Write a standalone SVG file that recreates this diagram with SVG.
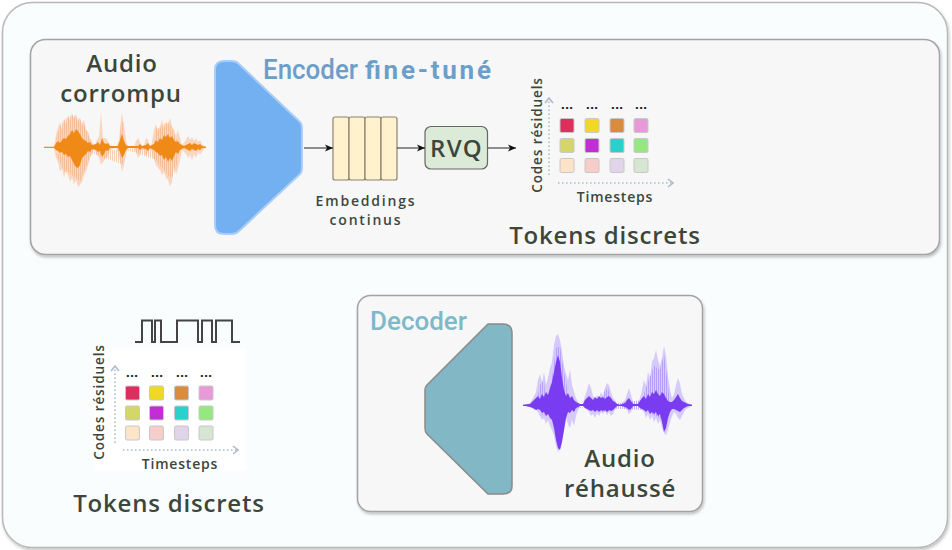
<svg xmlns="http://www.w3.org/2000/svg" width="952" height="550" viewBox="0 0 952 550">
<defs>
<style>
.lbl{font-family:"Open Sans","Noto Sans","DejaVu Sans",sans-serif;font-weight:600;fill:#3b473c}
.big{font-size:24px;letter-spacing:0.8px}
.title{font-family:Roboto,"Open Sans",sans-serif}
.panel{fill:#f7f7f7;stroke:#a3a3a3;stroke-width:1.5}
.emb{fill:#fff2cc;stroke:#8c8270;stroke-width:1.2}
.conn{stroke:#222;stroke-width:1;fill:none}
.axis{stroke:#aebacb;stroke-width:1.6;stroke-dasharray:1.5 2.5;fill:none}
.dots{font-family:"DejaVu Sans",sans-serif;font-size:11px;font-weight:700;fill:#222}
.sq{stroke:#c8c8c8;stroke-width:1}
</style>
<filter id="sh" x="-5%" y="-5%" width="110%" height="115%">
<feDropShadow dx="1" dy="2" stdDeviation="1.5" flood-color="#000" flood-opacity="0.25"/>
</filter>
<marker id="arr" viewBox="0 0 8 8" refX="8" refY="4" markerWidth="8" markerHeight="8" markerUnits="userSpaceOnUse" orient="auto">
<path d="M0,0.5 L8,4 L0,7.5 L2,4 Z" fill="#111"/>
</marker>
<marker id="chev" viewBox="0 0 8 10" refX="7" refY="5" markerWidth="8" markerHeight="10" markerUnits="userSpaceOnUse" orient="auto">
<path d="M2,1 L7,5 L2,9" fill="none" stroke="#aebacb" stroke-width="1.6"/>
</marker>
<pattern id="stO" width="2" height="10" patternUnits="userSpaceOnUse"><rect width="1" height="10" fill="#f0a06a"/></pattern>
<pattern id="stP" width="2" height="10" patternUnits="userSpaceOnUse"><rect width="1" height="10" fill="#a283f5"/></pattern>
</defs>

<rect width="952" height="550" fill="#ffffff"/>
<g id="frame">
<rect x="2.5" y="2.5" width="945" height="545" rx="30" fill="#f9fdfd" stroke="#b9b9b9" stroke-width="1.5" filter="url(#sh)"/>
</g>

<g id="encoder-panel">
<rect class="panel" x="30.5" y="39.5" width="909" height="215" rx="15" filter="url(#sh)"/>
</g>

<g id="audio-in">
<text class="lbl big" x="122" y="72" text-anchor="middle">Audio</text>
<text class="lbl big" x="121" y="102" text-anchor="middle">corrompu</text>
<g id="wave-orange">
<polygon id="envO" fill="#f9d0b6" opacity="0.85" points="54,147 56,135 58,128 60,122 62,130 64,118 66,124 68,115 70,121 72,113 74,119 76,114 78,122 80,117 82,126 84,120 86,130 88,132 90,138 92,142 94,146 97,140 99,137 101,112 103,138 106,138 108,141 110,146 116,147 119,140 121,120 122,112 124,125 126,140 128,147 134,147 136,141 138,138 140,142 142,147 144,145 146,138 148,140 150,147 152,142 154,130 156,124 158,132 160,126 162,120 164,128 166,122 168,124 170,118 172,126 174,130 176,136 178,130 180,138 182,145 186,140 188,136 190,140 192,137 194,141 196,138 198,142 200,140 202,144 204,146 206,147 204,149 202,152 200,155 198,152 196,158 194,154 192,160 190,155 188,158 186,154 182,150 180,160 178,168 176,175 174,165 172,182 170,187 168,180 166,178 164,172 162,175 160,170 158,168 156,165 154,160 152,152 150,148 148,152 146,156 144,150 142,148 140,155 138,158 136,152 134,148 128,148 126,155 124,165 122,172 120,160 118,152 116,148 110,150 108,156 106,158 103,162 101,165 99,158 97,155 94,149 92,154 90,158 88,165 86,172 84,175 82,182 80,185 78,187 76,180 74,184 72,178 70,182 68,175 66,170 64,178 62,168 60,172 58,162 56,158 54,148"/>
<polygon fill="url(#stO)" opacity="0.45" points="56,140 60,126 64,120 68,117 72,115 76,117 80,120 84,124 88,134 92,144 94,147 92,152 88,162 84,172 80,182 76,178 72,175 68,172 64,172 60,162 56,154 154,147 156,128 160,128 164,124 168,122 172,128 176,138 180,147 176,168 172,178 168,176 164,170 160,166 156,160 119,147 121,122 123,122 125,147 123,164 121,164"/>
<polygon fill="#ef8a17" points="44,147 54,147 56,143 58,141 60,143 62,140 64,138 66,139 68,136 70,134 72,130 74,133 76,129 78,131 80,134 82,138 84,140 86,141 88,143 90,142 92,145 96,144 98,142 100,145 102,138 104,143 106,144 108,143 110,146 118,146 120,140 122,134 124,141 126,145 128,146 138,146 140,144 142,146 146,145 148,143 150,146 154,144 156,140 158,142 160,138 162,140 164,135 166,137 168,134 170,138 172,136 174,140 176,142 178,141 180,144 184,146 188,144 190,143 192,145 194,143 196,144 198,145 200,144 202,146 206,147 206,147.5 202,148 200,150 198,149 196,151 194,150 192,149 190,151 188,150 184,148 180,150 178,154 176,152 174,156 172,161 170,158 168,162 166,157 164,160 162,155 160,156 158,153 156,152 154,150 150,148 148,151 146,149 142,148 140,150 138,148 128,148 126,150 124,155 122,158 120,152 118,148 110,148 108,151 106,150 104,154 102,157 100,151 98,152 96,150 92,149 90,152 88,151 86,154 84,156 82,158 80,165 78,168 76,167 74,164 72,160 70,156 68,157 66,154 64,155 62,152 60,153 58,151 56,150 54,148 44,147.5"/>
<line x1="44" y1="147.3" x2="206" y2="147.3" stroke="#ef8a17" stroke-width="1.2"/>
</g>
</g>

<g id="encoder">
<path d="M224,61 H232 Q236,61 239,64 L300,122 Q302,124 302,128 V168 Q302,172 300,174 L239,231 Q236,234 232,234 H224 Q215,234 215,225 V70 Q215,61 224,61 Z" fill="#73b0f2" stroke="#a9cdf6" stroke-width="2"/>
<text class="title" x="263" y="79" font-size="27" font-weight="500" fill="#6b9fc9" textLength="95" lengthAdjust="spacingAndGlyphs">Encoder</text>
<text class="title" x="365" y="79" font-size="26" font-weight="700" fill="#6b9fc9" textLength="126" lengthAdjust="spacing">fine-tuné</text>
</g>

<g id="embeddings">
<rect class="emb" x="333" y="117" width="16" height="63" rx="2"/>
<rect class="emb" x="349" y="117" width="16" height="63" rx="2"/>
<rect class="emb" x="365" y="117" width="16" height="63" rx="2"/>
<rect class="emb" x="381" y="117" width="16" height="63" rx="2"/>
<text class="lbl" x="366" y="206" font-size="14" letter-spacing="1.8" text-anchor="middle">Embeddings</text>
<text class="lbl" x="366" y="225" font-size="14" letter-spacing="1.8" text-anchor="middle">continus</text>
</g>

<g id="rvq">
<rect x="425" y="126.5" width="62.5" height="42.5" rx="6" fill="#dcebd8" stroke="#666" stroke-width="1.2"/>
<text class="lbl" x="456.5" y="157" font-size="24" font-weight="700" letter-spacing="1.2" text-anchor="middle">RVQ</text>
</g>

<g id="connectors">
<line class="conn" x1="304" y1="148" x2="333" y2="148" marker-end="url(#arr)"/>
<line class="conn" x1="397" y1="148" x2="425" y2="148" marker-end="url(#arr)"/>
<line class="conn" x1="488" y1="148" x2="516" y2="148" marker-end="url(#arr)"/>
</g>

<g id="tokens-top">
<line class="axis" x1="549" y1="175" x2="549" y2="98" marker-end="url(#chev)"/>
<line class="axis" x1="558" y1="183" x2="673" y2="183" marker-end="url(#chev)"/>
<text class="lbl" transform="translate(542,135) rotate(-90)" font-size="13.5" letter-spacing="0.9" text-anchor="middle">Codes résiduels</text>
<text class="lbl" x="615" y="202" font-size="14" letter-spacing="0.8" text-anchor="middle">Timesteps</text>
<text class="dots" x="567" y="109" text-anchor="middle">...</text>
<text class="dots" x="592" y="109" text-anchor="middle">...</text>
<text class="dots" x="617" y="109" text-anchor="middle">...</text>
<text class="dots" x="641" y="109" text-anchor="middle">...</text>
<rect class="sq" x="560" y="118.5" width="14" height="14" rx="1.5" fill="#dc2f5e"/>
<rect class="sq" x="585" y="118.5" width="14" height="14" rx="1.5" fill="#f0d824"/>
<rect class="sq" x="610" y="118.5" width="14" height="14" rx="1.5" fill="#da8b3e"/>
<rect class="sq" x="634" y="118.5" width="14" height="14" rx="1.5" fill="#e89ad8"/>
<rect class="sq" x="560" y="138.5" width="14" height="14" rx="1.5" fill="#d4d66a"/>
<rect class="sq" x="585" y="138.5" width="14" height="14" rx="1.5" fill="#c02ed4"/>
<rect class="sq" x="610" y="138.5" width="14" height="14" rx="1.5" fill="#2ad1cc"/>
<rect class="sq" x="634" y="138.5" width="14" height="14" rx="1.5" fill="#95e87f"/>
<rect class="sq" x="560" y="158.5" width="14" height="14" rx="1.5" fill="#fde3c8"/>
<rect class="sq" x="585" y="158.5" width="14" height="14" rx="1.5" fill="#f6cdc9"/>
<rect class="sq" x="610" y="158.5" width="14" height="14" rx="1.5" fill="#e2d4e8"/>
<rect class="sq" x="634" y="158.5" width="14" height="14" rx="1.5" fill="#d6e6d3"/>
<text class="lbl big" x="605" y="244" letter-spacing="1.3" text-anchor="middle">Tokens discrets</text>
</g>

<g id="tokens-bottom">
<rect x="95" y="349" width="151" height="122" fill="#ffffff"/>
<path d="M135,342 H142 V320.5 H152 V342 H155 V320.5 H161 V342 H177 V320.5 H198 V342 H202 V320.5 H212 V342 H216 V320.5 H232 V342 H240" fill="none" stroke="#444" stroke-width="2"/>
<line class="axis" x1="115" y1="443" x2="115" y2="366" marker-end="url(#chev)"/>
<line class="axis" x1="123" y1="450" x2="238" y2="450" marker-end="url(#chev)"/>
<text class="lbl" transform="translate(104,402) rotate(-90)" font-size="13.5" letter-spacing="0.9" text-anchor="middle">Codes résiduels</text>
<text class="lbl" x="180" y="469" font-size="14" letter-spacing="0.8" text-anchor="middle">Timesteps</text>
<text class="dots" x="132" y="377" text-anchor="middle">...</text>
<text class="dots" x="157" y="377" text-anchor="middle">...</text>
<text class="dots" x="182" y="377" text-anchor="middle">...</text>
<text class="dots" x="206" y="377" text-anchor="middle">...</text>
<rect class="sq" x="125.5" y="386" width="14" height="14" rx="1.5" fill="#dc2f5e"/>
<rect class="sq" x="149.5" y="386" width="14" height="14" rx="1.5" fill="#f0d824"/>
<rect class="sq" x="174.5" y="386" width="14" height="14" rx="1.5" fill="#da8b3e"/>
<rect class="sq" x="199" y="386" width="14" height="14" rx="1.5" fill="#e89ad8"/>
<rect class="sq" x="125.5" y="406" width="14" height="14" rx="1.5" fill="#d4d66a"/>
<rect class="sq" x="149.5" y="406" width="14" height="14" rx="1.5" fill="#c02ed4"/>
<rect class="sq" x="174.5" y="406" width="14" height="14" rx="1.5" fill="#2ad1cc"/>
<rect class="sq" x="199" y="406" width="14" height="14" rx="1.5" fill="#95e87f"/>
<rect class="sq" x="125.5" y="426" width="14" height="14" rx="1.5" fill="#fde3c8"/>
<rect class="sq" x="149.5" y="426" width="14" height="14" rx="1.5" fill="#f6cdc9"/>
<rect class="sq" x="174.5" y="426" width="14" height="14" rx="1.5" fill="#e2d4e8"/>
<rect class="sq" x="199" y="426" width="14" height="14" rx="1.5" fill="#d6e6d3"/>
<text class="lbl big" x="169" y="512" letter-spacing="1.3" text-anchor="middle">Tokens discrets</text>
</g>

<g id="decoder-panel">
<rect class="panel" x="357.5" y="295.5" width="345" height="216" rx="13" filter="url(#sh)"/>
</g>

<g id="decoder">
<path d="M488,324 H503 Q512,324 512,333 V486 Q512,494 503,494 H488 L427,434 Q425,432 425,428 V390 Q425,387 427,385 Z" fill="#82b8c6" stroke="#8a8a8a" stroke-width="1.5"/>
<text class="title" x="370" y="330" font-size="26" font-weight="500" fill="#7fb9c9">Decoder</text>
</g>

<g id="audio-out">
<g id="wave-purple">
<polygon fill="#d2c4fa" opacity="0.9" points="523,405 530,403 533,398 536,392 538,380 540,374 542,383 544,372 546,385 548,378 550,368 552,362 554,345 556,336 558,334 560,340 562,352 564,366 566,374 568,380 570,370 572,385 574,392 576,398 578,402 580,405 583,404 585,396 587,390 589,383 591,388 593,396 595,399 597,395 599,398 601,392 603,396 605,388 607,383 609,385 611,392 613,398 615,400 617,404 620,405 622,403 625,400 627,394 629,388 631,395 633,402 635,405 638,403 640,398 642,390 644,380 646,386 648,372 650,378 652,362 654,358 656,350 658,360 660,366 662,358 664,346 666,356 668,376 670,390 672,398 674,394 676,385 678,378 680,384 682,394 684,398 686,402 690,404 692,405 692,405.5 690,407 686,409 684,412 682,416 680,420 678,418 676,414 674,412 672,416 670,422 668,430 666,435 664,433 662,428 660,420 658,424 656,418 654,422 652,416 650,420 648,414 646,418 644,412 642,410 640,408 638,406 635,405 633,408 631,412 629,414 627,410 625,408 622,406 620,405.5 617,406 615,410 613,414 611,416 609,412 607,415 605,410 603,414 601,412 599,416 597,413 595,418 593,414 591,416 589,412 587,410 585,408 583,406 580,406 578,410 576,416 574,426 572,420 570,428 568,424 566,418 564,430 562,440 560,448 558,452 556,446 554,436 552,430 550,426 548,420 546,424 544,418 542,420 540,416 538,412 536,410 533,409 530,407 523,405.5"/>
<polygon fill="url(#stP)" opacity="0.6" points="548,400 552,378 556,348 560,346 564,372 568,392 566,412 562,432 558,442 554,425 550,412 642,400 648,382 654,366 660,370 664,354 668,385 670,405 666,424 660,418 652,414 646,410 536,405 540,385 544,380 546,405 544,416 540,414 600,405 604,392 608,388 612,405 608,412 604,412"/>
<polygon fill="#7a3cf0" points="523,405 530,404 533,401 536,398 538,396 540,399 542,394 544,397 546,392 548,395 550,388 552,382 554,372 556,362 558,355 560,362 562,378 564,390 566,396 568,393 570,398 572,396 574,400 576,402 580,404 583,404 585,400 587,398 589,396 591,398 593,400 595,397 597,399 599,396 601,398 603,397 605,399 607,397 609,396 611,398 613,401 615,402 617,404 620,405 625,403 627,400 629,398 631,401 633,404 638,404 640,401 642,398 644,396 646,399 648,394 650,397 652,392 654,394 656,390 658,394 660,396 662,392 664,394 666,398 668,401 670,402 672,402 674,400 676,397 678,394 680,398 682,401 684,402 688,404 692,405 692,405.5 688,406 684,408 682,410 680,412 678,411 676,410 674,409 672,409 670,412 668,418 666,428 664,432 662,422 660,414 658,416 656,412 654,414 652,412 650,414 648,410 646,412 644,410 642,409 640,408 638,406 633,406 631,409 629,410 627,408 625,407 620,405.5 617,406 615,408 613,410 611,411 609,410 607,412 605,410 603,411 601,410 599,412 597,410 595,412 593,410 591,411 589,410 587,409 585,408 583,406 580,406 576,408 574,412 572,410 570,413 568,412 566,418 564,430 562,442 560,450 558,448 556,440 554,428 552,420 550,418 548,414 546,416 544,412 542,413 540,410 538,409 536,410 533,408 530,407 523,405.5"/>
<line x1="523" y1="405.3" x2="692" y2="405.3" stroke="#7a3cf0" stroke-width="1.2"/>
</g>
<text class="lbl big" x="620" y="467" text-anchor="middle">Audio</text>
<text class="lbl big" x="620" y="497" text-anchor="middle">réhaussé</text>
</g>
</svg>
